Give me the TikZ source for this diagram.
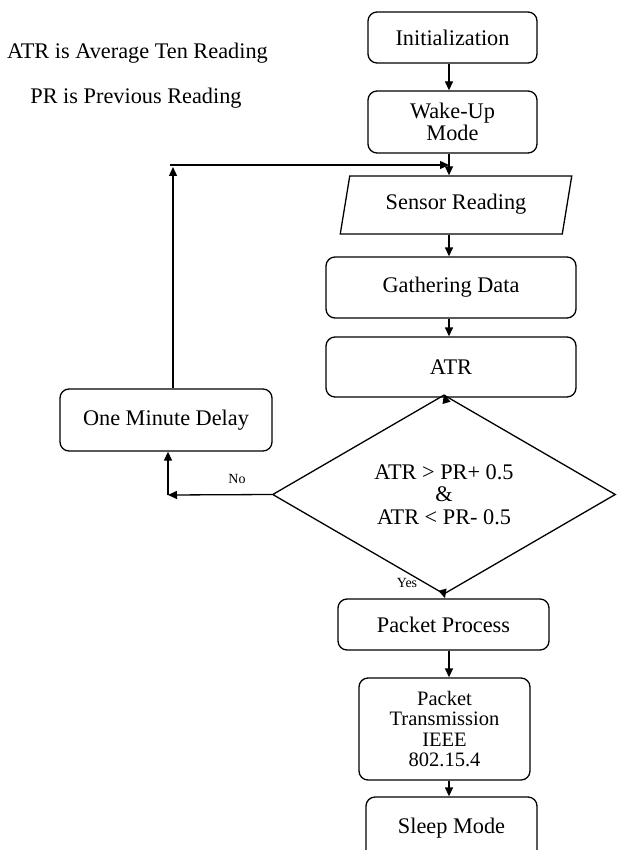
\documentclass[tikz,border=0pt]{standalone}
\usepackage{fontspec}
\setmainfont{Liberation Serif}
\usetikzlibrary{shapes.geometric,arrows.meta}
\begin{document}
\begin{tikzpicture}[x=1pt,y=-1pt,
  mainfont/.style={font=\fontsize{22.3}{22.5}\selectfont},
  box/.style={draw,line width=1.3pt,rounded corners=9pt,align=center,inner sep=0pt,mainfont},
  arr/.style={line width=1.3pt,-{Triangle[length=9pt,width=8pt]}},
  txt/.style={inner sep=0pt,mainfont},
  small/.style={inner sep=0pt,font=\fontsize{14}{14}\selectfont}]
\useasboundingbox (0,0) rectangle (616,850);
% legend texts
\node[txt] (leg1) at (137.5,53) {ATR is Average Ten Reading};
\node[txt] (leg2) at (136,98) {PR is Previous Reading};
% main column
\node[box,minimum width=169pt,minimum height=51pt] (init) at (452.5,37.5) {Initialization};
\node[box,minimum width=169pt,minimum height=62pt] (wake) at (452.5,122) {Wake-Up\\Mode};
\node[draw,trapezium,trapezium left angle=73.7,trapezium right angle=106.3,trapezium stretches=true,
      minimum width=232pt,minimum height=58pt,inner sep=0pt,line width=1.3pt,mainfont] (sensor) at (456,205) {\raisebox{6pt}{Sensor Reading}};
\node[box,minimum width=250pt,minimum height=61pt] (gather) at (451,287.5) {Gathering Data};
\node[box,minimum width=250pt,minimum height=60pt] (atr) at (451,367) {ATR};
\node[draw,diamond,line width=1.3pt,minimum width=343pt,minimum height=157pt,inner sep=0pt,align=center,mainfont] (dia) at (444,494.5) {ATR > PR+ 0.5\\\&\\ATR < PR- 0.5};
\node[box,minimum width=212pt,minimum height=62pt] (delay) at (166,420) {One Minute Delay};
\node[box,minimum width=211pt,minimum height=51pt] (pp) at (443.5,624.5) {Packet Process};
\node[box,minimum width=171pt,minimum height=102pt,font=\fontsize{20.5}{20.5}\selectfont] (pt) at (444.5,729) {Packet\\Transmission\\IEEE\\802.15.4};
\node[box,minimum width=171pt,minimum height=62pt] (sleep) at (451.5,828) {Sleep Mode};
% labels
\node[small] (nolab) at (237,479) {No};
\node[small] (yeslab) at (407,583) {Yes};
% columns
\coordinate (c1) at (449,0);
\coordinate (c2) at (445,0);
\coordinate (lp) at (173,165);
\coordinate (lpend) at (449,165);
\coordinate (nb) at (168,495);
% connectors
\draw[arr] (init.south -| c1) -- (wake.north -| c1);
\draw[arr] (wake.south -| c1) -- (sensor.north -| c1);
\draw[arr] (sensor.south -| c1) -- (gather.north -| c1);
\draw[arr] (gather.south -| c1) -- (atr.north -| c1);
\draw[arr] (atr.south -| c2) -- (dia.north);
\draw[arr] (dia.south) -- (pp.north -| c2);
\draw[arr] (pp.south -| c1) -- (pt.north -| c1);
\draw[arr] (pt.south -| c1) -- (sleep.north -| c1);
% no branch and loop
\draw[arr] (dia.west) -- (nb);
\draw[arr] (nb) -- (delay.south -| nb);
\draw[arr] (delay.north -| lp) -- ([yshift=-2pt]lp);
\draw[arr] ([xshift=-3pt]lp) -- (lpend);
\end{tikzpicture}
\end{document}
